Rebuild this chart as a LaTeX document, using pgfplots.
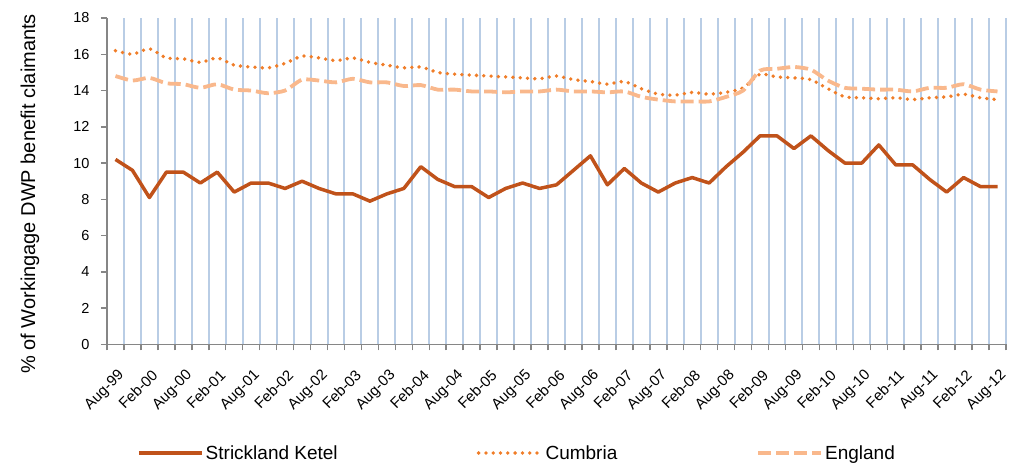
\documentclass[border=0pt]{standalone}
\usepackage{pgfplots}
\pgfplotsset{compat=1.18}
\usepackage{pgfplotstable}
\usepackage{fontspec}
\setmainfont{Liberation Sans}
\definecolor{skcol}{RGB}{192,82,26}
\definecolor{cucol}{RGB}{240,125,40}
\definecolor{encol}{RGB}{249,184,140}
\definecolor{gridblue}{RGB}{185,205,229}
\definecolor{axgray}{RGB}{134,134,134}
\pgfplotstableread{
i sk cu en
0 10.2 16.2 14.8
1 9.6 16.0 14.55
2 8.1 16.3 14.7
3 9.5 15.8 14.4
4 9.5 15.75 14.35
5 8.9 15.55 14.15
6 9.5 15.8 14.35
7 8.4 15.4 14.05
8 8.9 15.3 14.0
9 8.9 15.25 13.85
10 8.6 15.5 14.0
11 9.0 15.9 14.6
12 8.6 15.8 14.55
13 8.3 15.65 14.45
14 8.3 15.8 14.65
15 7.9 15.55 14.45
16 8.3 15.4 14.45
17 8.6 15.25 14.25
18 9.8 15.3 14.3
19 9.1 15.0 14.05
20 8.7 14.9 14.05
21 8.7 14.85 13.95
22 8.1 14.8 13.95
23 8.6 14.75 13.9
24 8.9 14.7 13.95
25 8.6 14.65 13.95
26 8.8 14.8 14.05
27 9.6 14.6 13.95
28 10.4 14.5 13.95
29 8.8 14.35 13.9
30 9.7 14.5 13.95
31 8.9 14.1 13.65
32 8.4 13.8 13.5
33 8.9 13.75 13.4
34 9.2 13.9 13.4
35 8.9 13.8 13.4
36 9.8 13.9 13.65
37 10.6 14.15 14.0
38 11.5 14.9 15.1
39 11.5 14.75 15.2
40 10.8 14.7 15.3
41 11.5 14.6 15.15
42 10.7 14.1 14.55
43 10.0 13.65 14.15
44 10.0 13.6 14.1
45 11.0 13.55 14.05
46 9.9 13.6 14.05
47 9.9 13.5 13.95
48 9.1 13.6 14.15
49 8.4 13.65 14.15
50 9.2 13.8 14.35
51 8.7 13.6 14.05
52 8.7 13.5 13.95
}\datatable
\begin{document}
\begin{tikzpicture}
\useasboundingbox (-107pt,-119.6pt) rectangle (902pt,344.4pt);
\begin{axis}[
  at={(0pt,0pt)}, anchor=south west,
  scale only axis,
  width=899pt, height=326.4pt,
  xmin=-0.5, xmax=52.5,
  ymin=0, ymax=18,
  axis x line*=bottom, axis y line*=left,
  axis line style={-, draw=axgray, line width=1.5pt},
  xtick={-0.5,0.5,...,52.5},
  xticklabels={},
  xmajorgrids=true,
  grid style={draw=gridblue, line width=2pt},
  major tick length=6pt,
  tick align=outside,
  tick style={draw=axgray, line width=1.5pt},
  ytick={0,2,...,18},
  /pgf/number format/assume math mode=true,
  yticklabel style={font=\fontsize{14.5}{17}\selectfont, xshift=-8pt},
  extra x ticks={0,2,...,52},
  extra x tick labels={Aug-99,Feb-00,Aug-00,Feb-01,Aug-01,Feb-02,Aug-02,Feb-03,Aug-03,Feb-04,Aug-04,Feb-05,Aug-05,Feb-06,Aug-06,Feb-07,Aug-07,Feb-08,Aug-08,Feb-09,Aug-09,Feb-10,Aug-10,Feb-11,Aug-11,Feb-12,Aug-12},
  extra x tick style={major tick length=0pt, grid=none,
    xticklabel style={yshift=-24pt, xshift=1.5pt, rotate=45, anchor=north east, inner sep=0pt, font=\fontsize{15}{18}\selectfont}},
  every axis y label/.style={at={(axis description cs:-0.0857,0.461)}, rotate=90, anchor=center, font=\fontsize{20}{24}\selectfont},
  ylabel={\% of Workingage DWP benefit claimants},
  legend columns=3,
  legend style={at={(axis description cs:0.0334,-0.3327)}, anchor=west, draw=none, fill=none, inner sep=0pt,
    font=\fontsize{19}{22}\selectfont,
    /tikz/every even column/.append style={column sep=137pt}},
  legend image code/.code={\draw[#1] (0pt,0pt) -- (63pt,0pt);},
  clip=false,
]
\addplot[skcol, line width=3.5pt, line join=round] table[x=i, y=sk] {\datatable};
\addlegendentry{Strickland Ketel}
\addplot[cucol, line width=3.8pt, line cap=round, dash pattern=on 0pt off 7.3pt, smooth, tension=0.4] table[x=i, y=cu] {\datatable};
\addlegendentry{Cumbria}
\addplot[encol, line width=3.8pt, dash pattern=on 13pt off 5pt, smooth, tension=0.4] table[x=i, y=en] {\datatable};
\addlegendentry{England}
\end{axis}
\end{tikzpicture}
\end{document}
